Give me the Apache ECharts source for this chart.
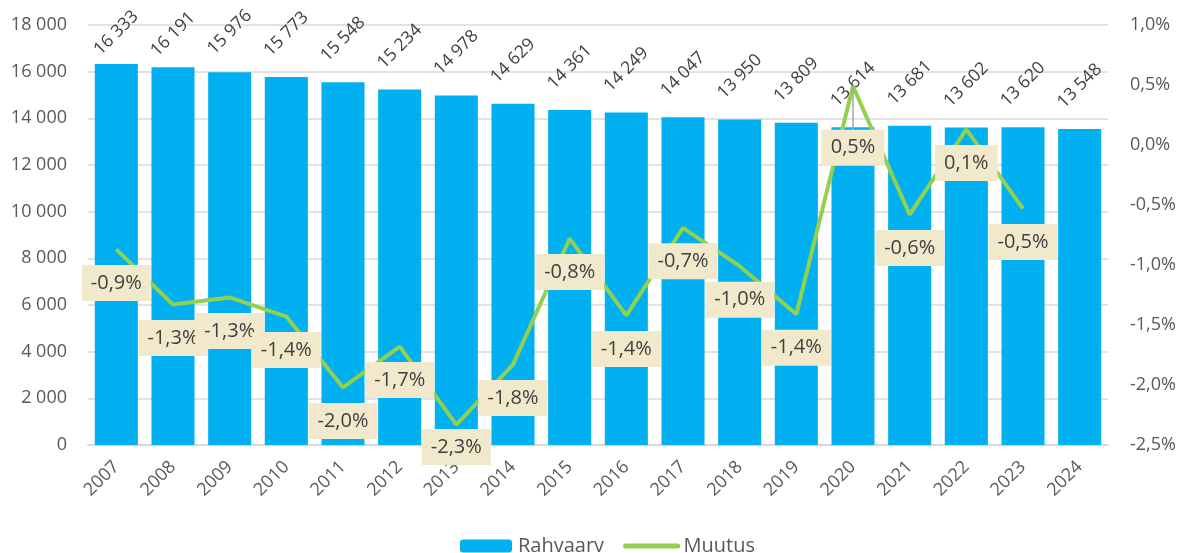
<!DOCTYPE html>
<html>
<head>
<meta charset="utf-8">
<script src="https://cdn.jsdelivr.net/npm/echarts@6/dist/echarts.min.js"></script>
<style>
html,body{margin:0;padding:0;background:#fff;}
#chart{width:1181px;height:553px;}
</style>
</head>
<body>
<div id="chart"></div>
<script>
const years = ['2007','2008','2009','2010','2011','2012','2013','2014','2015','2016','2017','2018','2019','2020','2021','2022','2023','2024'];
const rahvaarv = [16333,16191,15976,15773,15548,15234,14978,14629,14361,14249,14047,13950,13809,13614,13681,13602,13620,13548];
const muutus = [-0.87,-1.33,-1.27,-1.43,-2.02,-1.68,-2.33,-1.83,-0.78,-1.42,-0.69,-1.01,-1.41,0.49,-0.58,0.13,-0.53];

const FONT = '"Open Sans", "DejaVu Sans", sans-serif';
const fmtThousands = v => String(v).replace(/\B(?=(\d{3})+(?!\d))/g, ' ');
const fmtPct = v => v.toFixed(1).replace('.', ',') + '%';

const barLabelDist = {0: 31, 1: 33, 2: 40};
const lineLabelDist = {6: 4, 13: 43};

const barData = rahvaarv.map((v, i) => {
  const d = {value: v};
  if (barLabelDist[i] !== undefined) d.label = {distance: barLabelDist[i]};
  return d;
});
const lineLabelData = muutus.map((v, i) => {
  const d = {value: v};
  if (lineLabelDist[i] !== undefined) d.label = {distance: lineLabelDist[i]};
  if (i === 13) d.labelLine = {show: true, lineStyle: {color: '#a6a6a6', width: 1.5}};
  return d;
});

const chart = echarts.init(document.getElementById('chart'), null, {renderer: 'canvas'});
chart.setOption({
  animation: false,
  textStyle: {fontFamily: FONT},
  grid: {left: 88, right: 73, top: 25, bottom: 108, containLabel: false},
  legend: {
    bottom: -8,
    left: 455,
    itemWidth: 52,
    itemHeight: 13,
    itemGap: 19,
    textStyle: {color: '#595959', fontSize: 20, fontFamily: FONT, padding: [0, 0, 0, 1]},
    data: [
      {name: 'Rahvaarv'},
      {name: 'Muutus', itemStyle: {opacity: 0}, lineStyle: {width: 5, cap: 'round'}}
    ]
  },
  xAxis: {
    type: 'category',
    data: years,
    axisTick: {show: false},
    axisLine: {lineStyle: {color: '#d9d9d9', width: 2}},
    axisLabel: {rotate: 45, margin: 19, color: '#595959', fontSize: 18, fontFamily: FONT}
  },
  yAxis: [{
    type: 'value',
    min: 0, max: 18000, interval: 2000,
    axisLine: {show: false}, axisTick: {show: false},
    splitLine: {lineStyle: {color: '#d9d9d9', width: 1.5}},
    axisLabel: {color: '#595959', fontSize: 18, margin: 21, fontFamily: FONT, formatter: fmtThousands}
  }, {
    type: 'value',
    min: -2.5, max: 1, interval: 0.5,
    axisLine: {show: false}, axisTick: {show: false},
    splitLine: {show: false},
    axisLabel: {color: '#595959', fontSize: 18, margin: 22, fontFamily: FONT, formatter: fmtPct}
  }],
  series: [{
    name: 'Rahvaarv',
    type: 'bar',
    data: barData,
    barCategoryGap: '24%',
    itemStyle: {color: '#00b0f0'},
    emphasis: {disabled: true},
    label: {
      show: true, position: 'top', distance: 43, rotate: 45,
      align: 'center', verticalAlign: 'middle',
      color: '#404040', fontSize: 17.5, fontFamily: FONT,
      formatter: p => fmtThousands(p.value)
    }
  }, {
    name: 'Muutus',
    type: 'line',
    yAxisIndex: 1,
    data: muutus,
    symbol: 'none',
    lineStyle: {color: '#92d050', width: 4},
    itemStyle: {color: '#92d050'},
    emphasis: {disabled: true},
    z: 3
  }, {
    name: 'MuutusLabels',
    type: 'line',
    yAxisIndex: 1,
    data: lineLabelData,
    symbol: 'circle',
    symbolSize: 1,
    itemStyle: {color: 'rgba(0,0,0,0)'},
    lineStyle: {width: 0, color: 'rgba(0,0,0,0)'},
    emphasis: {disabled: true},
    z: 4,
    labelLine: {show: false},
    label: {
      show: true, position: 'bottom', distance: 15,
      align: 'center', verticalAlign: 'top',
      backgroundColor: '#f2e8cc', padding: [7, 9, 7, 9], lineHeight: 22,
      color: '#404040', fontSize: 20, fontFamily: FONT,
      formatter: p => fmtPct(p.value)
    }
  }]
});
</script>
</body>
</html>
